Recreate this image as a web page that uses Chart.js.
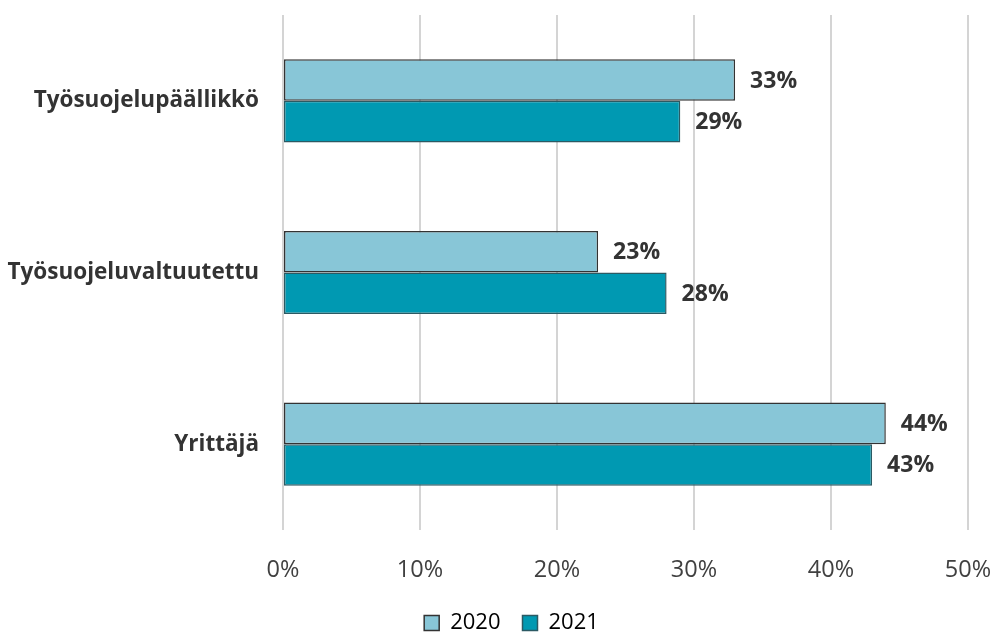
<!DOCTYPE html>
<html lang="fi">
<head>
<meta charset="utf-8">
<script src="https://cdn.jsdelivr.net/npm/chart.js"></script>
<style>
  html, body { margin: 0; padding: 0; background: #fff; }
  .chart-container { width: 993px; height: 633px; position: relative; }
</style>
</head>
<body>

<div class="chart-container">
    <canvas id="roleChart"></canvas>
</div>

<script>
    const categories = ["Työsuojelupäällikkö", "Työsuojeluvaltuutettu", "Yrittäjä"];
    const values2020 = [33, 23, 44];
    const values2021 = [29, 28, 43];
    const xTicks = [0, 10, 20, 30, 40, 50];

    const textColor = '#333333';
    const fontFamily = "'Open Sans', 'Noto Sans', sans-serif";

    // draw "33%" style labels at the end of each bar
    const valueLabels = {
        id: 'valueLabels',
        afterDatasetsDraw(chart) {
            const ctx = chart.ctx;
            ctx.save();
            ctx.font = 'bold 23px ' + fontFamily;
            ctx.fillStyle = textColor;
            ctx.textAlign = 'left';
            ctx.textBaseline = 'middle';
            chart.data.datasets.forEach((ds, i) => {
                chart.getDatasetMeta(i).data.forEach((bar, j) => {
                    ctx.fillText(ds.data[j] + '%', bar.x + 15, bar.y + 1);
                });
            });
            ctx.restore();
        }
    };

    // fixed legend height so the plot keeps its size, legend nudged right
    const legendHeight = {
        id: 'legendHeight',
        beforeInit(chart) {
            const legend = chart.legend;
            const fit = legend.fit;
            const draw = legend.draw;
            legend.fit = function() {
                fit.call(this);
                this.height = 45;
            };
            legend.draw = function() {
                this.ctx.save();
                this.ctx.translate(15, 2);
                draw.call(this);
                this.ctx.restore();
            };
        }
    };

    var ctx = document.getElementById('roleChart').getContext('2d');
    var roleChart = new Chart(ctx, {
        type: 'bar',
        data: {
            labels: categories,
            datasets: [
                {
                    label: '2020',
                    data: values2020,
                    backgroundColor: '#88c6d7',
                    borderColor: '#333333',
                    borderWidth: 1.5,
                    borderSkipped: false,
                    categoryPercentage: 0.484,
                    barPercentage: 1
                },
                {
                    label: '2021',
                    data: values2021,
                    backgroundColor: '#0099b2',
                    borderColor: '#2b5a63',
                    borderWidth: 1.5,
                    borderSkipped: false,
                    categoryPercentage: 0.484,
                    barPercentage: 1
                }
            ]
        },
        options: {
            indexAxis: 'y',
            responsive: true,
            maintainAspectRatio: false,
            animation: false,
            layout: { padding: { top: 15, right: 0, left: 0, bottom: 0 } },
            scales: {
                x: {
                    min: 0,
                    max: 50,
                    afterBuildTicks(scale) {
                        scale.ticks = xTicks.map(v => ({ value: v }));
                    },
                    afterFit(scale) {
                        scale.height = 58;
                        scale.paddingLeft = 0;
                        scale.paddingRight = 25;
                    },
                    grid: { color: '#d4d4d4', lineWidth: 2, drawTicks: false },
                    border: { display: false },
                    ticks: {
                        padding: 26,
                        color: '#404040',
                        font: { family: fontFamily, size: 23.5 },
                        callback: v => v + '%'
                    }
                },
                y: {
                    afterFit(scale) {
                        scale.width = 283;
                        scale.paddingTop = 0;
                        scale.paddingBottom = 0;
                    },
                    grid: { display: false },
                    border: { display: false },
                    ticks: {
                        padding: 16,
                        color: textColor,
                        font: { family: fontFamily, size: 22.5, weight: 'bold' }
                    }
                }
            },
            plugins: {
                legend: {
                    position: 'bottom',
                    labels: {
                        boxWidth: 15,
                        boxHeight: 15,
                        padding: 22,
                        color: '#404040',
                        font: { family: fontFamily, size: 22 },
                        generateLabels(chart) {
                            return chart.data.datasets.map((ds, i) => ({
                                text: ds.label,
                                fillStyle: ds.backgroundColor,
                                strokeStyle: ds.borderColor,
                                lineWidth: 1.5,
                                datasetIndex: i
                            }));
                        }
                    }
                },
                tooltip: { enabled: false }
            }
        },
        plugins: [valueLabels, legendHeight]
    });
</script>
</body>
</html>
